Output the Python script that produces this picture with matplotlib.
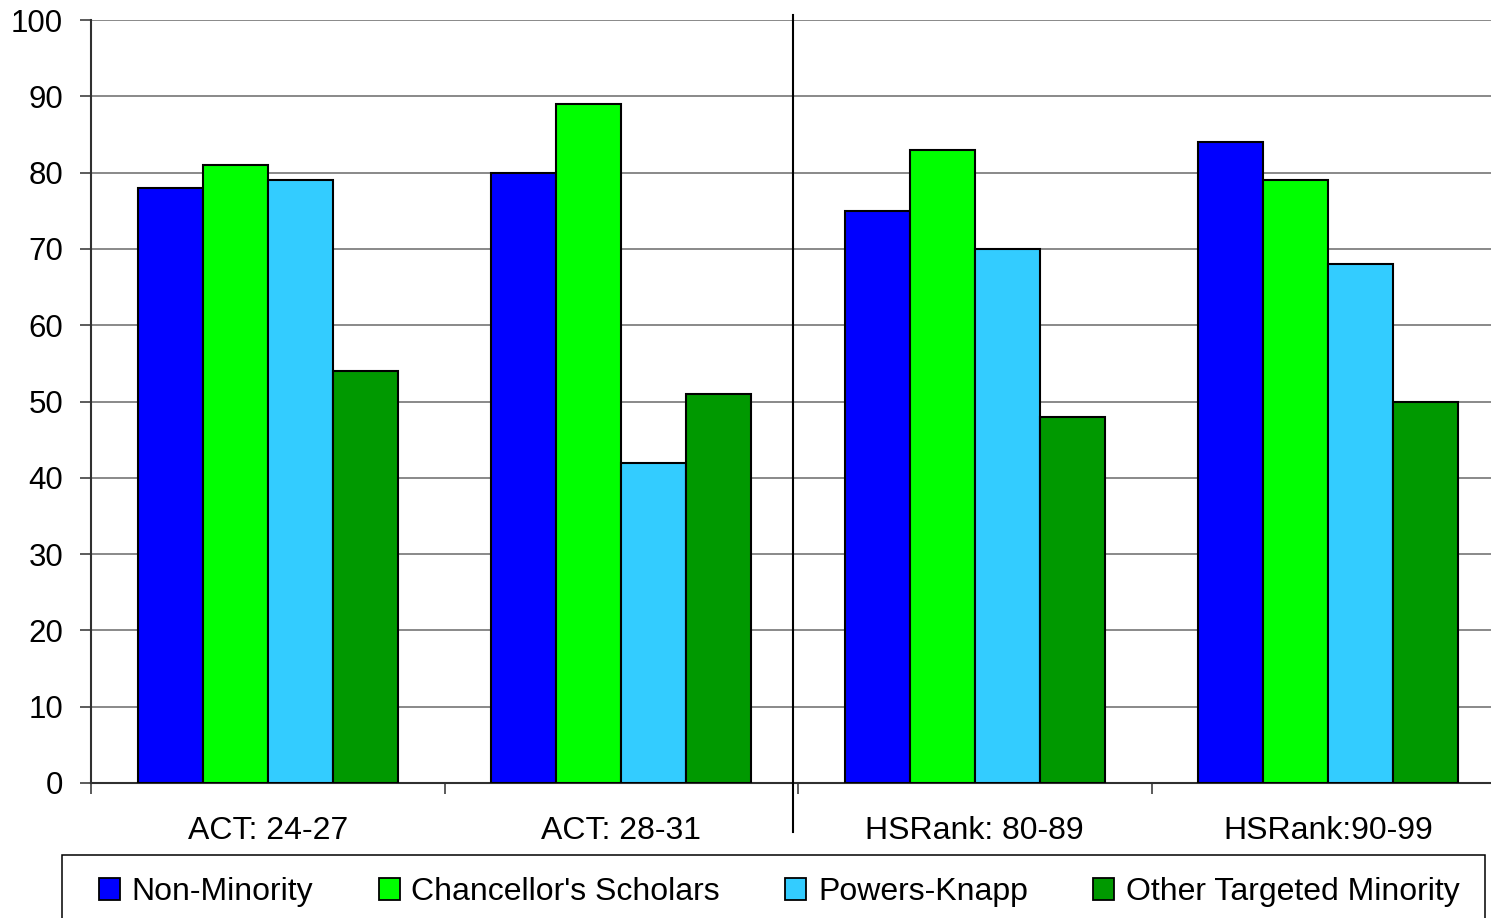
import matplotlib
import matplotlib.pyplot as plt
import numpy as np
from matplotlib.lines import Line2D
from matplotlib.patches import Rectangle

matplotlib.use("Agg")

plt.rcParams["font.family"] = ["Liberation Sans", "DejaVu Sans"]

categories = ["ACT: 24-27", "ACT: 28-31", "HSRank: 80-89", "HSRank:90-99"]
series_names = ["Non-Minority", "Chancellor's Scholars", "Powers-Knapp",
                "Other Targeted Minority"]
non_minority = [78, 80, 75, 84]
chancellors = [81, 89, 83, 79]
powers_knapp = [79, 42, 70, 68]
other_minority = [54, 51, 48, 50]
colors = ["#0000FF", "#00FF00", "#33CCFF", "#009900"]

W, H = 1491, 918
fig = plt.figure(figsize=(W / 100, H / 100), dpi=100)
ax = fig.add_axes([91 / W, (H - 783) / H, (1505 - 91) / W, (783 - 20) / H])

x = np.arange(len(categories))
bw = 0.184
for i, (vals, col, name) in enumerate(zip(
        [non_minority, chancellors, powers_knapp, other_minority], colors, series_names)):
    ax.bar(x + (i - 1.5) * bw, vals, bw, color=col, edgecolor="black",
           linewidth=1.5, label=name, zorder=3)

ax.set_xlim(-0.5, len(categories) - 0.5)
ax.set_ylim(0, 100)
ax.set_yticks(np.arange(0, 101, 10))
ax.yaxis.grid(True, color="#808080", linewidth=1.3, zorder=0)
ax.set_axisbelow(True)

# category labels centred, tick marks between categories
ax.set_xticks(x)
ax.set_xticklabels(categories)
ax.set_xticks(np.arange(-0.5, len(categories), 1), minor=True)
ax.tick_params(axis="x", which="major", length=0, pad=24, labelsize=23)
ax.tick_params(axis="x", which="minor", length=8, width=1.2, color="#404040",
               direction="out")
ax.tick_params(axis="y", length=8, width=1.2, color="#404040", pad=12,
               labelsize=22.5, direction="out")

for s in ["top", "right"]:
    ax.spines[s].set_visible(False)
ax.spines["left"].set_color("#303030")
ax.spines["left"].set_linewidth(1.5)
ax.spines["bottom"].set_color("#303030")
ax.spines["bottom"].set_linewidth(1.5)

# divider between ACT and HS rank groups
fig.add_artist(Line2D([793 / W, 793 / W], [(H - 15) / H, (H - 832) / H],
                      color="black", linewidth=1.5))

# legend box along the bottom
fig.add_artist(Rectangle((62 / W, -0.02), (1485 - 62) / W, (H - 855) / H + 0.02,
                         facecolor="white", edgecolor="black", linewidth=1.1))
handles = [Rectangle((0, 0), 1, 1, facecolor=c, edgecolor="black", linewidth=1.3)
           for c in colors]
fig.legend(handles, series_names, loc="center left",
           bbox_to_anchor=(99 / W, (H - 892) / H), ncol=4, frameon=False,
           fontsize=23, handlelength=0.66, handleheight=0.66,
           handletextpad=0.36, columnspacing=2.05, borderpad=0, borderaxespad=0)

fig.savefig("out.png", dpi=100)
